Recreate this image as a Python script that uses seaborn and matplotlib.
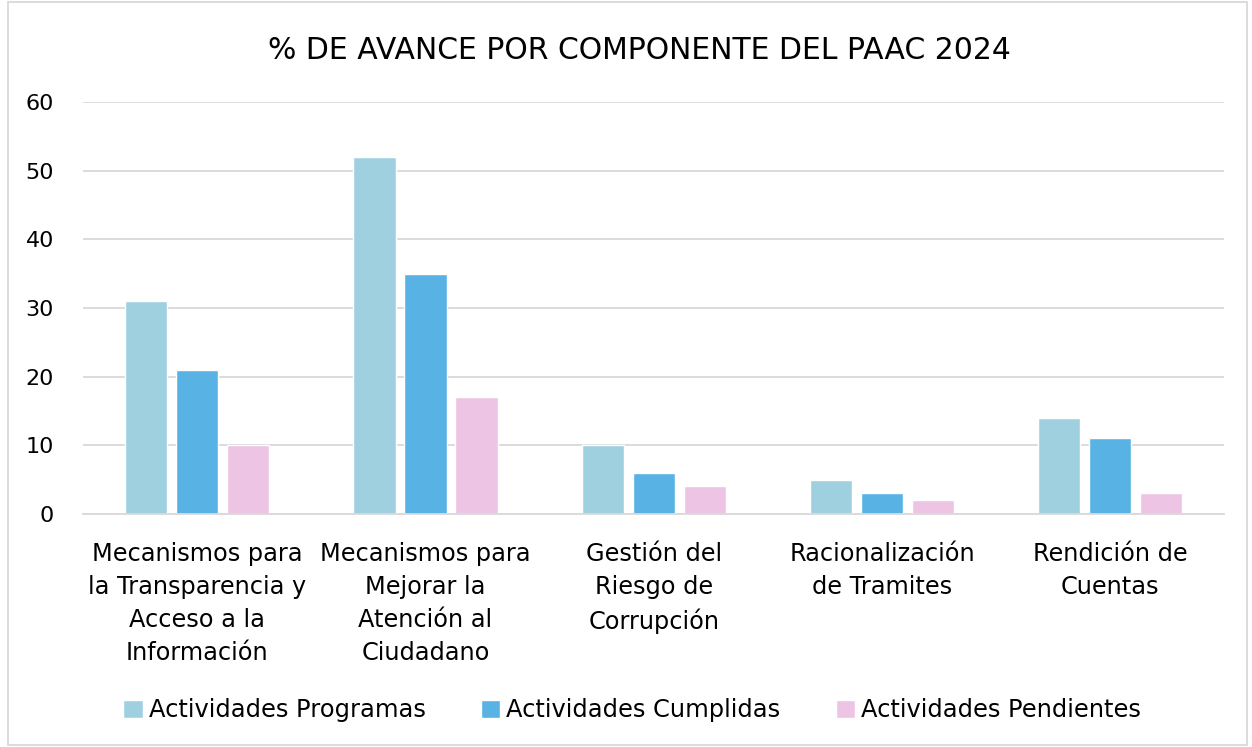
import pandas as pd
import seaborn as sns
from matplotlib import pyplot as plt
from matplotlib.patches import Rectangle

componentes = [
    "Mecanismos para\nla Transparencia y\nAcceso a la\nInformación",
    "Mecanismos para\nMejorar la\nAtención al\nCiudadano",
    "Gestión del\nRiesgo de\nCorrupción",
    "Racionalización\nde Tramites",
    "Rendición de\nCuentas",
]
series = ["Actividades Programas", "Actividades Cumplidas", "Actividades Pendientes"]
programadas = [31, 52, 10, 5, 14]
cumplidas = [21, 35, 6, 3, 11]
pendientes = [10, 17, 4, 2, 3]
colores = ["#9FD0E0", "#58B2E4", "#EDC4E4"]

rows = []
for serie, valores in zip(series, [programadas, cumplidas, pendientes]):
    for comp, v in zip(componentes, valores):
        rows.append({"Componente": comp, "Serie": serie, "Valor": v})
df = pd.DataFrame(rows)

sns.set_style("white")
plt.rcParams["font.family"] = ["DejaVu Sans"]

fig = plt.figure(figsize=(12.52, 7.47), dpi=100)
ax = fig.add_axes([0.0663, 0.312, 0.9117, 0.5515])

sns.barplot(data=df, x="Componente", y="Valor", hue="Serie", palette=colores,
            saturation=1, width=0.67, gap=0.17, ax=ax, legend=True)

ax.set_ylim(0, 60)
ax.set_yticks(range(0, 61, 10))
ax.yaxis.grid(True, color="#D9D9D9", linewidth=1.3)
ax.set_axisbelow(True)
for s in ["top", "right", "left"]:
    ax.spines[s].set_visible(False)
ax.spines["bottom"].set_color("#D9D9D9")
ax.spines["bottom"].set_linewidth(1.3)
ax.tick_params(axis="both", length=0, colors="black")
ax.tick_params(axis="y", pad=21, labelsize=16)
ax.tick_params(axis="x", pad=20, labelsize=17.3)
for lbl in ax.get_xticklabels():
    lbl.set_linespacing(1.48)
ax.set_xlabel("")
ax.set_ylabel("")

handles, labels = ax.get_legend_handles_labels()
ax.get_legend().remove()
leg = fig.legend(handles, labels, loc="center", bbox_to_anchor=(0.505, 0.049), ncol=3,
                 frameon=False, fontsize=17.4, handlelength=0.8, handleheight=0.8,
                 handletextpad=0.25, columnspacing=2.3)
for t in leg.get_texts():
    t.set_color("black")

fig.text(0.511, 0.933, "% DE AVANCE POR COMPONENTE DEL PAAC 2024", ha="center",
         va="center", fontsize=21.5, color="black")

fig.patches.append(Rectangle((0.006, 0.003), 0.99, 0.994, transform=fig.transFigure,
                             fill=False, edgecolor="#D9D9D9", linewidth=1.3))

fig.savefig("out.png", dpi=100)
